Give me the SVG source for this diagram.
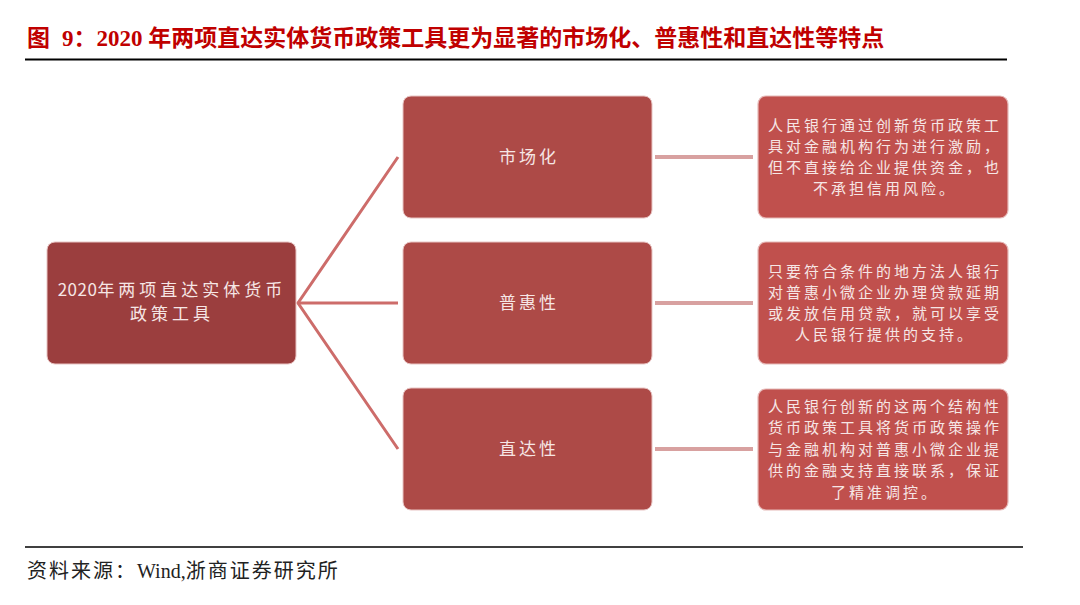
<svg xmlns="http://www.w3.org/2000/svg" width="1080" height="605" viewBox="0 0 1080 605">
<style>
.title{font-family:"Liberation Serif","Noto Sans CJK SC",serif;font-weight:bold;font-size:23px;fill:#C00000}
.src{font-family:"Liberation Serif","Noto Sans CJK SC",serif;font-size:20px;letter-spacing:2px;fill:#222}
.root{fill:#9B3E3E;stroke:#E8C4C3;stroke-width:1}
.mid{fill:#AD4A47;stroke:#E8C4C3;stroke-width:1}
.desc{fill:#C0504D;stroke:#E6B9B8;stroke-width:1.2}
.t{font-family:"Noto Sans CJK SC",sans-serif;fill:#F6E6E5;text-anchor:middle}
.tr{font-size:17px;letter-spacing:4px}
.tm{font-size:17px;letter-spacing:3px}
.td{font-size:15px;letter-spacing:3px}
.fan{stroke:#CD6C6A;stroke-width:3;fill:none}
.bar{stroke:#D8A1A0;stroke-width:4;fill:none}
</style>
<rect width="1080" height="605" fill="#fff"/>
<text class="title" x="27" y="46">图<tspan dx="12">9：2020 年两项直达实体货币政策工具更为显著的市场化、普惠性和直达性等特点</tspan></text>
<line x1="25" y1="59.5" x2="1007" y2="59.5" stroke="#000" stroke-width="2"/>
<g id="connectors">
<polyline class="fan" points="398,157 298,303 398,449"/>
<line class="fan" x1="298" y1="303" x2="398" y2="303"/>
<line class="bar" x1="655" y1="157" x2="753" y2="157"/>
<line class="bar" x1="655" y1="303" x2="753" y2="303"/>
<line class="bar" x1="655" y1="449" x2="753" y2="449"/>
</g>
<g id="root">
<rect class="root" x="47" y="242" width="249" height="122" rx="8"/>
<text class="t tr" x="172" y="296"><tspan letter-spacing="0.5">2020</tspan>年两项直达实体货币</text>
<text class="t tr" x="172" y="320">政策工具</text>
</g>
<g id="n1">
<rect class="mid" x="403" y="96" width="249" height="122" rx="8"/>
<text class="t tm" x="529" y="163">市场化</text>
</g>
<g id="n2">
<rect class="mid" x="403" y="242" width="249" height="122" rx="8"/>
<text class="t tm" x="529" y="309">普惠性</text>
</g>
<g id="n3">
<rect class="mid" x="403" y="388" width="249" height="122" rx="8"/>
<text class="t tm" x="529" y="455">直达性</text>
</g>
<g id="d1">
<rect class="desc" x="758" y="96" width="250" height="122" rx="8"/>
<text class="t td" x="885" y="131">人民银行通过创新货币政策工</text>
<text class="t td" x="885" y="152">具对金融机构行为进行激励，</text>
<text class="t td" x="885" y="173">但不直接给企业提供资金，也</text>
<text class="t td" x="885" y="194">不承担信用风险。</text>
</g>
<g id="d2">
<rect class="desc" x="758" y="242" width="250" height="122" rx="8"/>
<text class="t td" x="885" y="277">只要符合条件的地方法人银行</text>
<text class="t td" x="885" y="298">对普惠小微企业办理贷款延期</text>
<text class="t td" x="885" y="319">或发放信用贷款，就可以享受</text>
<text class="t td" x="885" y="340">人民银行提供的支持。</text>
</g>
<g id="d3">
<rect class="desc" x="758" y="389" width="250" height="121" rx="8"/>
<text class="t td" x="885" y="412">人民银行创新的这两个结构性</text>
<text class="t td" x="885" y="433">货币政策工具将货币政策操作</text>
<text class="t td" x="885" y="455">与金融机构对普惠小微企业提</text>
<text class="t td" x="885" y="476">供的金融支持直接联系，保证</text>
<text class="t td" x="885" y="498">了精准调控。</text>
</g>
<line x1="25" y1="547" x2="1023" y2="547" stroke="#000" stroke-width="1.5"/>
<text class="src" x="27" y="578">资料来源：<tspan letter-spacing="0">Wind,</tspan>浙商证券研究所</text>
</svg>
